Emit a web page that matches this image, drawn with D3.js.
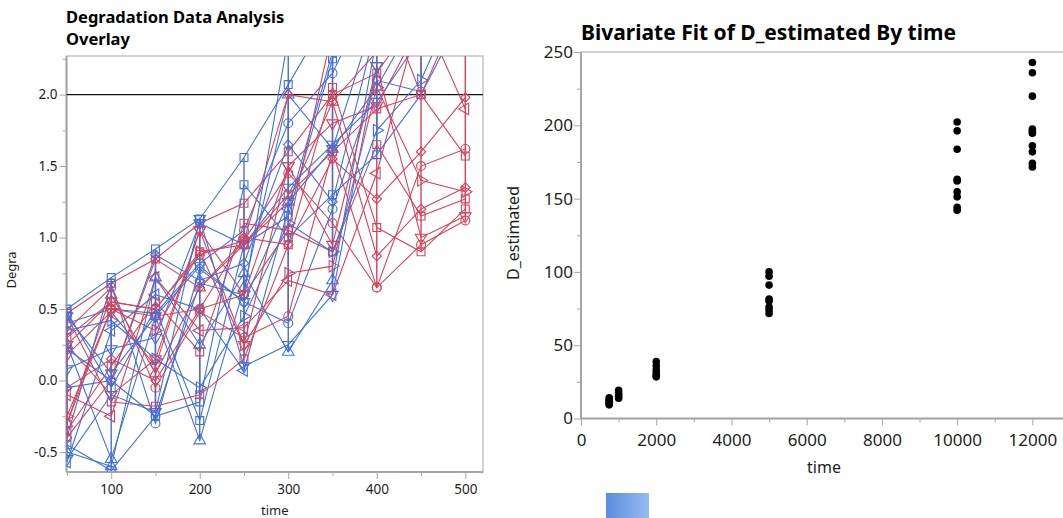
<!DOCTYPE html>
<html><head><meta charset="utf-8">
<script src="https://cdn.jsdelivr.net/npm/d3@7"></script>
<style>
body{margin:0;background:#fff}
svg{display:block;font-family:"Noto Sans","Open Sans",sans-serif}
</style>
</head><body>
<svg id="c" width="1063" height="518"></svg>
<script>
// ---------- DATA: Degradation overlay ----------
const times = [50,100,150,200,250,300,350,400,450,500];
const blueMarkers = ["square","circle","up","down","diamond","left","square","circle","up","right","down","square","circle","down"];
const blueSeries = [
  [0.50, 0.72, 0.92, 1.13, 1.56, 2.07, 2.60, 3.00, null, null],
  [0.40, 0.50, 0.47, 0.82, 1.05, 1.80, 2.15, 2.80, null, null],
  [0.25,-0.55, 0.45,-0.42, 0.65, 2.00, 1.62, 2.05, 2.60, null],
  [0.08, 0.22, 0.30, 1.10, 0.95, 1.35, 1.65, 1.95, 2.40, null],
  [-0.05,0.00, 0.88, 0.70, 0.82, 1.65, 1.25, 2.50, null, null],
  [-0.57,0.35, 0.60, 0.50, 0.07, 1.20, 2.30, 2.90, null, null],
  [-0.45,-0.63,-0.25,-0.15,1.37, 1.00, 1.30, 1.58, 2.00, 2.60],
  [-0.40,0.68,-0.30, 0.78, 0.55, 0.40, 1.20, 2.10, 2.02, null],
  [-0.50,-0.60,0.72, 0.25, 0.75, 0.20, 0.70, 2.40, null, null],
  [0.35, 0.42, 0.15,-0.05, 0.45, 1.10, 0.90, 1.75, 2.10, 2.80],
  [-0.55,-0.10,-0.22,1.13, 0.10, 0.25, 0.60, 2.20, null, null],
  [0.48,-0.05, 0.50,-0.28, 0.95, 1.15, 2.25, 2.70, null, null],
  [0.22, 0.00,-0.25, 0.68, 0.60, 2.40, 2.50, null, null, null],
  [0.45, 0.05, 0.45, 0.80, 0.55, 1.25, 1.62, 2.60, null, null]
];
const redMarkers = ["square","circle","up","down","diamond","left","square","circle","right","square","down","diamond","square","circle"];
const redSeries = [
  [0.47, 0.68, 0.85, 1.10, 1.24, 1.60, 2.00, 2.15, 2.60, 3.00],
  [0.25, 0.55, 0.50, 0.88, 0.98, 1.45, 1.10, 0.65, 1.50, 1.62],
  [-0.30,0.60, 0.05, 0.65, 0.95, 1.25, 1.95, 2.30, 2.60, 2.90],
  [0.18, 0.48, 0.10, 1.05, 0.60, 1.50, 1.80, 1.92, 2.50, 2.40],
  [-0.05,0.15, 0.00, 0.50, 1.00, 0.95, 1.55, 1.27, 1.60, 1.98],
  [-0.10,-0.25,0.72, 0.35, 0.37, 0.70, 0.60, 1.45, 2.60, 1.90],
  [-0.35,0.10, 0.55, 0.20, 1.10, 1.05, 0.90, 1.65, 1.15, 1.27],
  [0.35, 0.65,-0.05, 0.48, 0.30, 0.45, 1.60, 0.65, 0.95, 1.12],
  [-0.25,0.50, 0.35, 0.90, 0.25, 0.75, 0.80, 2.05, 1.40, 1.32],
  [0.45,-0.15,-0.18,-0.10, 0.15, 0.95, 2.05, 1.07, 0.90, 1.20],
  [0.25,-0.10, 0.15, 1.05, 0.25, 1.50, 0.95, 2.20, 1.00, 1.15],
  [-0.40,0.00, 0.85, 0.65, 0.98, 2.00, 1.95, 0.87, 1.20, 1.35],
  [0.30, 0.55, 0.50, 0.90, 0.95, 1.30, 1.60, 1.90, 2.00, 1.57],
  [-0.30,0.50, 0.45, 0.50, 0.60, 1.05, 2.45, 2.80, 2.00, 2.70]
];
const refLevel = 2.0;
const degraYTicks = [-0.5, 0.0, 0.5, 1.0, 1.5, 2.0];
const degraYMinor = [-0.25, 0.25, 0.75, 1.25, 1.75, 2.25];
const degraXTicks = [100, 200, 300, 400, 500];
const degraXMinor = [50, 150, 250, 350, 450];

// ---------- DATA: Bivariate fit ----------
const fitTimes = [750, 1000, 2000, 5000, 10000, 12000];
const fitValues = [
  [9.3, 10.2, 11.0, 12.1, 13.0, 14.2],
  [13.8, 15.0, 16.2, 17.6, 19.2],
  [28.4, 29.5, 31.0, 33.2, 36.0, 38.8],
  [71.6, 74.0, 76.0, 80.2, 81.5, 91.0, 97.0, 100.0],
  [142.0, 144.0, 151.2, 154.6, 162.0, 163.2, 183.7, 196.2, 202.3],
  [171.6, 174.0, 181.9, 186.0, 194.5, 196.0, 197.4, 219.9, 235.8, 242.8]
];
const fitYTicks = [0, 50, 100, 150, 200, 250];
const fitYMinor = [25, 75, 125, 175, 225];
const fitXTicks = [0, 2000, 4000, 6000, 8000, 10000, 12000];
const fitXMinor = [1000, 3000, 5000, 7000, 9000, 11000];

// ---------- DRAW ----------
const svg = d3.select("#c");
const BLUE = "#4070de", RED = "#d6435a";
const AXIS = "#a6a6a6", TXT = "#1e1e1e";

// ===== Left panel =====
const L = {x0: 66.5, x1: 483, y0: 56, y1: 472};
const xL = d3.scaleLinear().domain([49.5, 520]).range([L.x0, L.x1]);
const yL = d3.scaleLinear().domain([-0.64, 2.27]).range([L.y1, L.y0]);

svg.append("text").attr("x", 66).attr("y", 23).attr("font-size", 16.5).attr("font-weight", "bold")
  .attr("fill", "#000").text("Degradation Data Analysis");
svg.append("text").attr("x", 66).attr("y", 45).attr("font-size", 16.5).attr("font-weight", "bold")
  .attr("fill", "#000").text("Overlay");

svg.append("defs").append("clipPath").attr("id", "clipL")
  .append("rect").attr("x", L.x0).attr("y", L.y0).attr("width", L.x1 - L.x0).attr("height", L.y1 - L.y0);

svg.append("rect").attr("x", L.x0).attr("y", L.y0).attr("width", L.x1 - L.x0).attr("height", L.y1 - L.y0)
  .attr("fill", "none").attr("stroke", "#c4c4c4").attr("stroke-width", 1.5);

function styleAxis(g, fs) {
  g.select(".domain").remove();
  g.selectAll(".tick line").attr("stroke", AXIS).attr("stroke-width", 1);
  g.selectAll(".tick text").attr("fill", TXT).attr("font-size", fs)
    .attr("font-family", '"Noto Sans","Open Sans",sans-serif');
}
const fmt1 = d => d.toFixed(1);

const gy = svg.append("g").attr("transform", `translate(${L.x0},0)`)
  .call(d3.axisLeft(yL).tickValues(degraYTicks).tickSize(7).tickPadding(2).tickFormat(fmt1));
styleAxis(gy, 13.5);
const gym = svg.append("g").attr("transform", `translate(${L.x0},0)`)
  .call(d3.axisLeft(yL).tickValues(degraYMinor).tickSize(4).tickFormat(""));
styleAxis(gym, 13);
const gx = svg.append("g").attr("transform", `translate(0,${L.y1})`)
  .call(d3.axisBottom(xL).tickValues(degraXTicks).tickSize(7).tickPadding(5).tickFormat(d3.format("d")));
styleAxis(gx, 13.5);
const gxm = svg.append("g").attr("transform", `translate(0,${L.y1})`)
  .call(d3.axisBottom(xL).tickValues(degraXMinor).tickSize(4).tickFormat(""));
styleAxis(gxm, 13);
svg.append("line").attr("x1", L.x0).attr("x2", L.x0).attr("y1", L.y0).attr("y2", L.y1).attr("stroke", AXIS).attr("stroke-width", 2);
svg.append("line").attr("x1", L.x0).attr("x2", L.x1).attr("y1", L.y1).attr("y2", L.y1).attr("stroke", AXIS).attr("stroke-width", 2);

svg.append("text").attr("x", (L.x0 + L.x1) / 2).attr("y", 515).attr("text-anchor", "middle")
  .attr("font-size", 13).attr("fill", TXT).text("time");
svg.append("text").attr("transform", `translate(16,270) rotate(-90)`).attr("text-anchor", "middle")
  .attr("font-size", 13).attr("fill", TXT).text("Degra");

const plotL = svg.append("g").attr("clip-path", "url(#clipL)");
plotL.append("line").attr("x1", L.x0).attr("x2", L.x1).attr("y1", yL(refLevel)).attr("y2", yL(refLevel))
  .attr("stroke", "#111").attr("stroke-width", 1.3);

const line = d3.line().defined(d => d.v !== null).x(d => xL(d.t)).y(d => yL(d.v));
function markerPath(type) {
  const sym = {square: d3.symbolSquare, circle: d3.symbolCircle, diamond: d3.symbolSquare}[type] || d3.symbolTriangle;
  const size = type === "square" ? 62 : type === "circle" ? 62 : type === "diamond" ? 44 : 58;
  return d3.symbol().type(sym).size(size)();
}
const rot = {square: 0, circle: 0, up: 0, down: 180, diamond: 45, left: -90, right: 90};

function drawVerticals(series, color) {
  times.forEach((t, i) => {
    const ext = d3.extent(series.map(s => s[i]).filter(v => v !== null));
    if (ext[0] === undefined) return;
    plotL.append("line").attr("x1", xL(t)).attr("x2", xL(t)).attr("y1", yL(ext[0])).attr("y2", yL(ext[1]))
      .attr("stroke", color).attr("stroke-width", 1.4);
  });
}
function drawSeries(s, type, color) {
  const pts = times.map((t, i) => ({t, v: s[i]}));
  const g = plotL.append("g");
  g.append("path").attr("d", line(pts)).attr("fill", "none").attr("stroke", color).attr("stroke-width", 1.1);
  g.selectAll(null).data(pts.filter(d => d.v !== null)).enter().append("path")
    .attr("d", markerPath(type))
    .attr("transform", d => `translate(${xL(d.t)},${yL(d.v)}) rotate(${rot[type]})`)
    .attr("fill", "none").attr("stroke", color).attr("stroke-width", 1.1);
}
drawVerticals(redSeries, RED);
drawVerticals(blueSeries, BLUE);
const nS = Math.max(blueSeries.length, redSeries.length);
for (let k = 0; k < nS; k++) {
  if (redSeries[k]) drawSeries(redSeries[k], redMarkers[k], RED);
  if (blueSeries[k]) drawSeries(blueSeries[k], blueMarkers[k], BLUE);
}

// ===== Right panel =====
const R = {x0: 581, x1: 1070, y0: 52, y1: 418.5};
const xR = d3.scaleLinear().domain([0, 13000]).range([R.x0, R.x1]);
const yR = d3.scaleLinear().domain([0, 250]).range([R.y1, R.y0]);

svg.append("text").attr("x", 581).attr("y", 40).attr("font-size", 21).attr("font-weight", "bold")
  .attr("fill", "#000").text("Bivariate Fit of D_estimated By time");

svg.append("rect").attr("x", R.x0).attr("y", R.y0).attr("width", R.x1 - R.x0).attr("height", R.y1 - R.y0)
  .attr("fill", "none").attr("stroke", "#c4c4c4").attr("stroke-width", 1.5);

const ry = svg.append("g").attr("transform", `translate(${R.x0},0)`)
  .call(d3.axisLeft(yR).tickValues(fitYTicks).tickSize(7).tickPadding(1).tickFormat(d3.format("d")));
styleAxis(ry, 17);
const rym = svg.append("g").attr("transform", `translate(${R.x0},0)`)
  .call(d3.axisLeft(yR).tickValues(fitYMinor).tickSize(4).tickFormat(""));
styleAxis(rym, 17);
const rx = svg.append("g").attr("transform", `translate(0,${R.y1})`)
  .call(d3.axisBottom(xR).tickValues(fitXTicks).tickSize(7).tickPadding(8).tickFormat(d3.format("d")));
styleAxis(rx, 17);
const rxm = svg.append("g").attr("transform", `translate(0,${R.y1})`)
  .call(d3.axisBottom(xR).tickValues(fitXMinor).tickSize(4).tickFormat(""));
styleAxis(rxm, 17);
svg.append("line").attr("x1", R.x0).attr("x2", R.x0).attr("y1", R.y0).attr("y2", R.y1).attr("stroke", AXIS).attr("stroke-width", 2);
svg.append("line").attr("x1", R.x0).attr("x2", R.x1).attr("y1", R.y1).attr("y2", R.y1).attr("stroke", AXIS).attr("stroke-width", 2);

svg.append("text").attr("x", 824).attr("y", 473).attr("text-anchor", "middle")
  .attr("font-size", 16).attr("fill", TXT).text("time");
svg.append("text").attr("transform", `translate(519,233) rotate(-90)`).attr("text-anchor", "middle")
  .attr("font-size", 16).attr("fill", TXT).text("D_estimated");

const fitPts = fitTimes.flatMap((t, i) => fitValues[i].map(v => ({t, v})));
svg.append("g").selectAll("circle").data(fitPts).enter().append("circle")
  .attr("cx", d => xR(d.t)).attr("cy", d => yR(d.v)).attr("r", 3.8).attr("fill", "#000");

const grad = svg.select("defs").append("linearGradient").attr("id", "sw");
grad.append("stop").attr("offset", "0%").attr("stop-color", "#5a8ddd");
grad.append("stop").attr("offset", "100%").attr("stop-color", "#96bbf5");
svg.append("rect").attr("x", 606).attr("y", 493).attr("width", 43).attr("height", 25).attr("fill", "url(#sw)");
</script>
</body></html>
